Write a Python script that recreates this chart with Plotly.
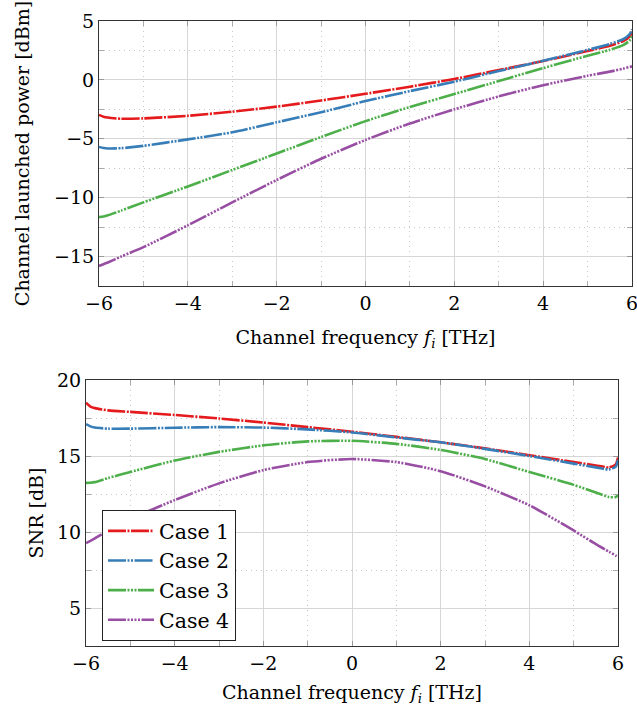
import plotly.graph_objects as go

# ---------------- data ----------------
freq = [-6, -5.9, -5.8, -5.5, -5, -4, -3, -2, -1, 0, 1, 2, 3, 4, 5, 5.5, 5.8, 5.95, 6]

power_case1 = [-2.97, -3.12, -3.2, -3.3, -3.27, -3.05, -2.7, -2.27, -1.75, -1.18, -0.58, 0.08, 0.83, 1.6, 2.45, 2.9, 3.3, 3.7, 4.1]
power_case2 = [-5.7, -5.78, -5.82, -5.8, -5.6, -5.05, -4.45, -3.6, -2.75, -1.8, -0.95, -0.15, 0.75, 1.62, 2.55, 3.05, 3.45, 3.9, 4.3]
power_case3 = [-11.65, -11.6, -11.5, -11.1, -10.4, -9.05, -7.65, -6.25, -4.85, -3.5, -2.3, -1.2, -0.1, 1.0, 2.05, 2.55, 2.95, 3.35, 3.75]
power_case4 = [-15.8, -15.65, -15.5, -15.0, -14.2, -12.35, -10.4, -8.5, -6.7, -5.1, -3.7, -2.5, -1.4, -0.45, 0.35, 0.7, 0.95, 1.1, 1.15]

snr_case1 = [18.5, 18.25, 18.15, 18.0, 17.9, 17.7, 17.47, 17.2, 16.9, 16.6, 16.26, 15.9, 15.5, 15.05, 14.6, 14.38, 14.25, 14.45, 14.9]
snr_case2 = [17.1, 16.95, 16.87, 16.8, 16.8, 16.86, 16.9, 16.87, 16.75, 16.55, 16.22, 15.9, 15.47, 15.0, 14.5, 14.25, 14.12, 14.3, 14.75]
snr_case3 = [13.23, 13.24, 13.28, 13.55, 13.95, 14.7, 15.27, 15.7, 15.96, 16.0, 15.8, 15.4, 14.8, 13.95, 13.1, 12.6, 12.3, 12.3, 12.42]
snr_case4 = [9.27, 9.42, 9.58, 10.1, 10.85, 12.1, 13.2, 14.07, 14.6, 14.8, 14.6, 14.0, 13.0, 11.76, 10.1, 9.2, 8.7, 8.45, 8.35]

case_names = ["Case 1", "Case 2", "Case 3", "Case 4"]
x_ticks = [-6, -4, -2, 0, 2, 4, 6]
power_ticks = [-15, -10, -5, 0, 5]
snr_ticks = [5, 10, 15, 20]

# ---------------- style ----------------
colors = ["#e41a1c", "#377eb8", "#4daf4a", "#984ea3"]
dashes = [
    "18px,1.5px,2px,1.5px",
    "18px,1.5px,2px,1.5px,2px,1.5px",
    "18px,1.5px,2px,1.5px,2px,1.5px,2px,1.5px",
    "18px,1.5px,2px,1.5px,2px,1.5px,2px,1.5px,2px,1.5px",
]
FONT = "DejaVu Serif"
FS = 19
W, H = 637, 714

fig = go.Figure()
powers = [power_case1, power_case2, power_case3, power_case4]
snrs = [snr_case1, snr_case2, snr_case3, snr_case4]

for i in range(4):
    fig.add_trace(go.Scatter(
        x=freq, y=powers[i], mode="lines", name=case_names[i],
        line=dict(color=colors[i], width=2.6, dash=dashes[i], shape="spline", smoothing=0.6),
        xaxis="x", yaxis="y", showlegend=False, legendgroup=case_names[i]))
for i in range(4):
    fig.add_trace(go.Scatter(
        x=freq, y=snrs[i], mode="lines", name=case_names[i],
        line=dict(color=colors[i], width=2.6, dash=dashes[i], shape="spline", smoothing=0.6),
        xaxis="x2", yaxis="y2", showlegend=True, legendgroup=case_names[i]))

def px_dom(a, b, total):
    return [a / total, b / total]

common = dict(
    automargin=False,
    showline=True, linecolor="#333333", linewidth=1, mirror="allticks",
    ticks="inside", ticklen=5, tickcolor="#999999", tickwidth=1,
    showgrid=True, gridcolor="#d6d6d6", gridwidth=1, zeroline=False,
    ticklabeloverflow="allow",
    tickfont=dict(family=FONT, size=FS, color="black"),
)
minor_style = dict(showgrid=True, gridcolor="#c8c8c8", griddash="1px,4px",
                   ticks="inside", ticklen=5, tickcolor="#aaaaaa")

def xax(domain, anchor, standoff):
    return dict(common, domain=domain, anchor=anchor, range=[-6, 6],
                tickvals=x_ticks,
                minor=dict(minor_style, dtick=1, tick0=0),
                title=dict(text="Channel frequency <i>f</i><sub><i>i</i></sub> [THz]",
                           font=dict(family=FONT, size=FS, color="black"), standoff=standoff))

def yax(domain, anchor, rng, ticks, title, standoff):
    return dict(common, domain=domain, anchor=anchor, range=rng, tickvals=ticks,
                minor=dict(minor_style, dtick=2.5, tick0=0),
                title=dict(text=title, font=dict(family=FONT, size=FS, color="black"),
                           standoff=standoff))

fig.update_layout(
    width=W, height=H,
    margin=dict(l=0, r=0, t=0, b=0, autoexpand=False),
    paper_bgcolor="white", plot_bgcolor="white",
    font=dict(family=FONT, size=FS, color="black"),
    xaxis=xax(px_dom(99, 632, W), "y", 17),
    yaxis=yax([1 - 286 / H, 1 - 21 / H], "x", [-17.5, 5], power_ticks,
              "Channel launched power [dBm]", 19),
    xaxis2=xax(px_dom(86, 618, W), "y2", 12),
    yaxis2=yax([1 - 646 / H, 1 - 380 / H], "x2", [2.5, 20], snr_ticks, "SNR [dB]", 8),
    legend=dict(x=102 / W, y=1 - 510 / H, xanchor="left", yanchor="top",
                bgcolor="white", bordercolor="#222222", borderwidth=1,
                font=dict(family=FONT, size=20.5, color="black"),
                tracegroupgap=0, itemwidth=46),
    showlegend=True,
)

fig.write_html("out.html", config={"displayModeBar": False})

# remove the browser's default page margin so the figure sits at (0, 0)
with open("out.html", "r", encoding="utf-8") as f:
    html = f.read()
html = html.replace("<head>", "<head><style>html,body{margin:0;padding:0;overflow:hidden}</style>", 1)
with open("out.html", "w", encoding="utf-8") as f:
    f.write(html)
